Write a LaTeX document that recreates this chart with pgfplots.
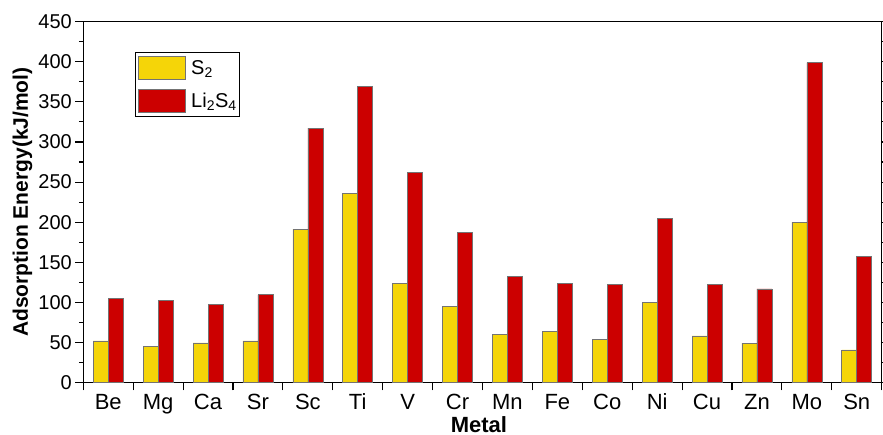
\documentclass[border=0pt]{standalone}
\usepackage{fontspec}
\setmainfont{Liberation Sans}
\usepackage{pgfplots}
\pgfplotsset{compat=1.18}
\definecolor{syel}{RGB}{245,213,8}
\definecolor{lred}{RGB}{204,0,0}
\pgfplotsset{myleg/.style={legend image code/.code={\draw[##1] (0pt,-11.5pt) rectangle (47pt,11.5pt);}}}
\begin{document}
\begin{tikzpicture}
\useasboundingbox (-83.3pt,-52.5pt) rectangle (799.7pt,382.5pt);
\begin{axis}[
  at={(0,0)}, anchor=south west,
  scale only axis,
  width=798.4pt, height=360.8pt,
  xmin=-0.5, xmax=15.5, ymin=0, ymax=450,
  ybar=0pt, bar width=15pt,
  xtick={-0.5,0.5,...,15.5},
  x tick label as interval,
  xticklabels={Be,Mg,Ca,Sr,Sc,Ti,V,Cr,Mn,Fe,Co,Ni,Cu,Zn,Mo,Sn},
  ytick={0,50,...,450},
  minor y tick num=1,
  xtick pos=bottom, ytick pos=both,
  tick align=outside,
  major tick length=8pt, minor tick length=4.5pt,
  axis line style={line width=1.3pt},
  every tick/.style={black, line width=1.1pt},
  /pgf/number format/assume math mode=true,
  yticklabel style={font=\fontsize{20}{20}\selectfont},
  xticklabel style={font=\fontsize{22}{22}\selectfont},
  ylabel={Adsorption Energy(kJ/mol)},
  xlabel={Metal},
  ylabel style={at={(axis description cs:-0.0762,0.5)}, anchor=center, font=\bfseries\fontsize{21}{21}\selectfont},
  xlabel style={at={(axis description cs:0.4955,-0.1375)}, anchor=base, inner sep=0pt, font=\bfseries\fontsize{22}{22}\selectfont},
  legend style={at={(axis description cs:0.065,0.916)}, anchor=north west, draw=black, line width=0.9pt,
    font=\fontsize{20}{20}\selectfont, inner xsep=2pt, inner ysep=4pt, row sep=9pt,
    nodes={inner sep=1pt},
    /tikz/every odd column/.append style={column sep=5pt}},
  legend cell align=left,
]
\addplot[fill=syel, draw=black!55, line width=0.6pt, myleg]
  coordinates {(0,52) (1,45.3) (2,49.5) (3,52) (4,191.3) (5,236.2) (6,123.9) (7,94.8) (8,60.3) (9,64.0) (10,54.1) (11,100.2) (12,58.2) (13,49.1) (14,200) (15,40.7)};
\addlegendentry{S\textsubscript{2}}
\addplot[fill=lred, draw=black!55, line width=0.6pt, myleg]
  coordinates {(0,105.2) (1,102.3) (2,97.7) (3,109.4) (4,317.3) (5,369.2) (6,262.4) (7,187.1) (8,132.2) (9,123.9) (10,122.7) (11,204.6) (12,122.7) (13,116.8) (14,398.8) (15,157.6)};
\addlegendentry{Li\textsubscript{2}S\textsubscript{4}}
\end{axis}
\end{tikzpicture}
\end{document}
